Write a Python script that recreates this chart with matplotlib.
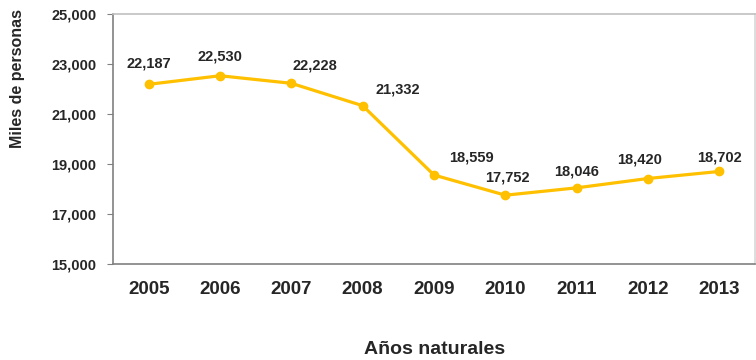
import matplotlib
matplotlib.use('Agg')
import matplotlib.pyplot as plt
from matplotlib.ticker import FuncFormatter

plt.rcParams['font.family'] = ['Liberation Sans', 'DejaVu Sans']

years = ['2005', '2006', '2007', '2008', '2009', '2010', '2011', '2012', '2013']
personas = [22187, 22530, 22228, 21332, 18559, 17752, 18046, 18420, 18702]
# label offsets from each point, in pixels
label_dx = [0, 0, 24, 35, 37, 2, 0, -8, 0]
label_dy = [21, 19, 18, 16, 18, 18, 16, 19, 14]

txt = '#262626'
gold = '#FFC000'

fig = plt.figure(figsize=(7.56, 3.6), dpi=100)
ax = fig.add_axes([113/756, 1-264/360, 642/756, 250/360])

x = list(range(len(years)))
ax.plot(x, personas, color=gold, lw=2.3, marker='o', ms=6, mec=gold, mfc=gold,
        solid_capstyle='round', zorder=3)

for i, v in enumerate(personas):
    ax.annotate('{:,}'.format(v), (i, v), xytext=(label_dx[i], label_dy[i]),
                textcoords='offset pixels', ha='center', va='center',
                fontsize=10.5, fontweight='bold', color=txt)

ax.set_xlim(-0.5, len(years) - 0.5)
ax.set_ylim(15000, 25000)
ax.set_yticks(range(15000, 25001, 2000))
ax.yaxis.set_major_formatter(FuncFormatter(lambda v, p: '{:,}'.format(int(v))))
ax.set_xticks(x)
ax.set_xticklabels(years)

for lab in ax.get_yticklabels():
    lab.set_fontweight('bold')
    lab.set_fontsize(10.5)
    lab.set_color(txt)
for lab in ax.get_xticklabels():
    lab.set_fontweight('bold')
    lab.set_fontsize(13.5)
    lab.set_color(txt)

ax.tick_params(axis='y', direction='out', length=4, color='#808080', pad=8)
ax.tick_params(axis='x', length=0, pad=12)

ax.spines['left'].set_color('#808080')
ax.spines['bottom'].set_color('#808080')
ax.spines['top'].set_color('#c0c0c0')
ax.spines['right'].set_color('#d8d8d8')
for s in ax.spines.values():
    s.set_linewidth(1.2)

fig.text(18/756, 1-78/360, 'Miles de personas', rotation=90, ha='center',
         va='center', fontsize=11.5, fontweight='bold', color=txt)
fig.text(435/756, 1-350/360, 'Años naturales', ha='center', va='center',
         fontsize=14, fontweight='bold', color=txt)

fig.savefig('out.png', dpi=100)
